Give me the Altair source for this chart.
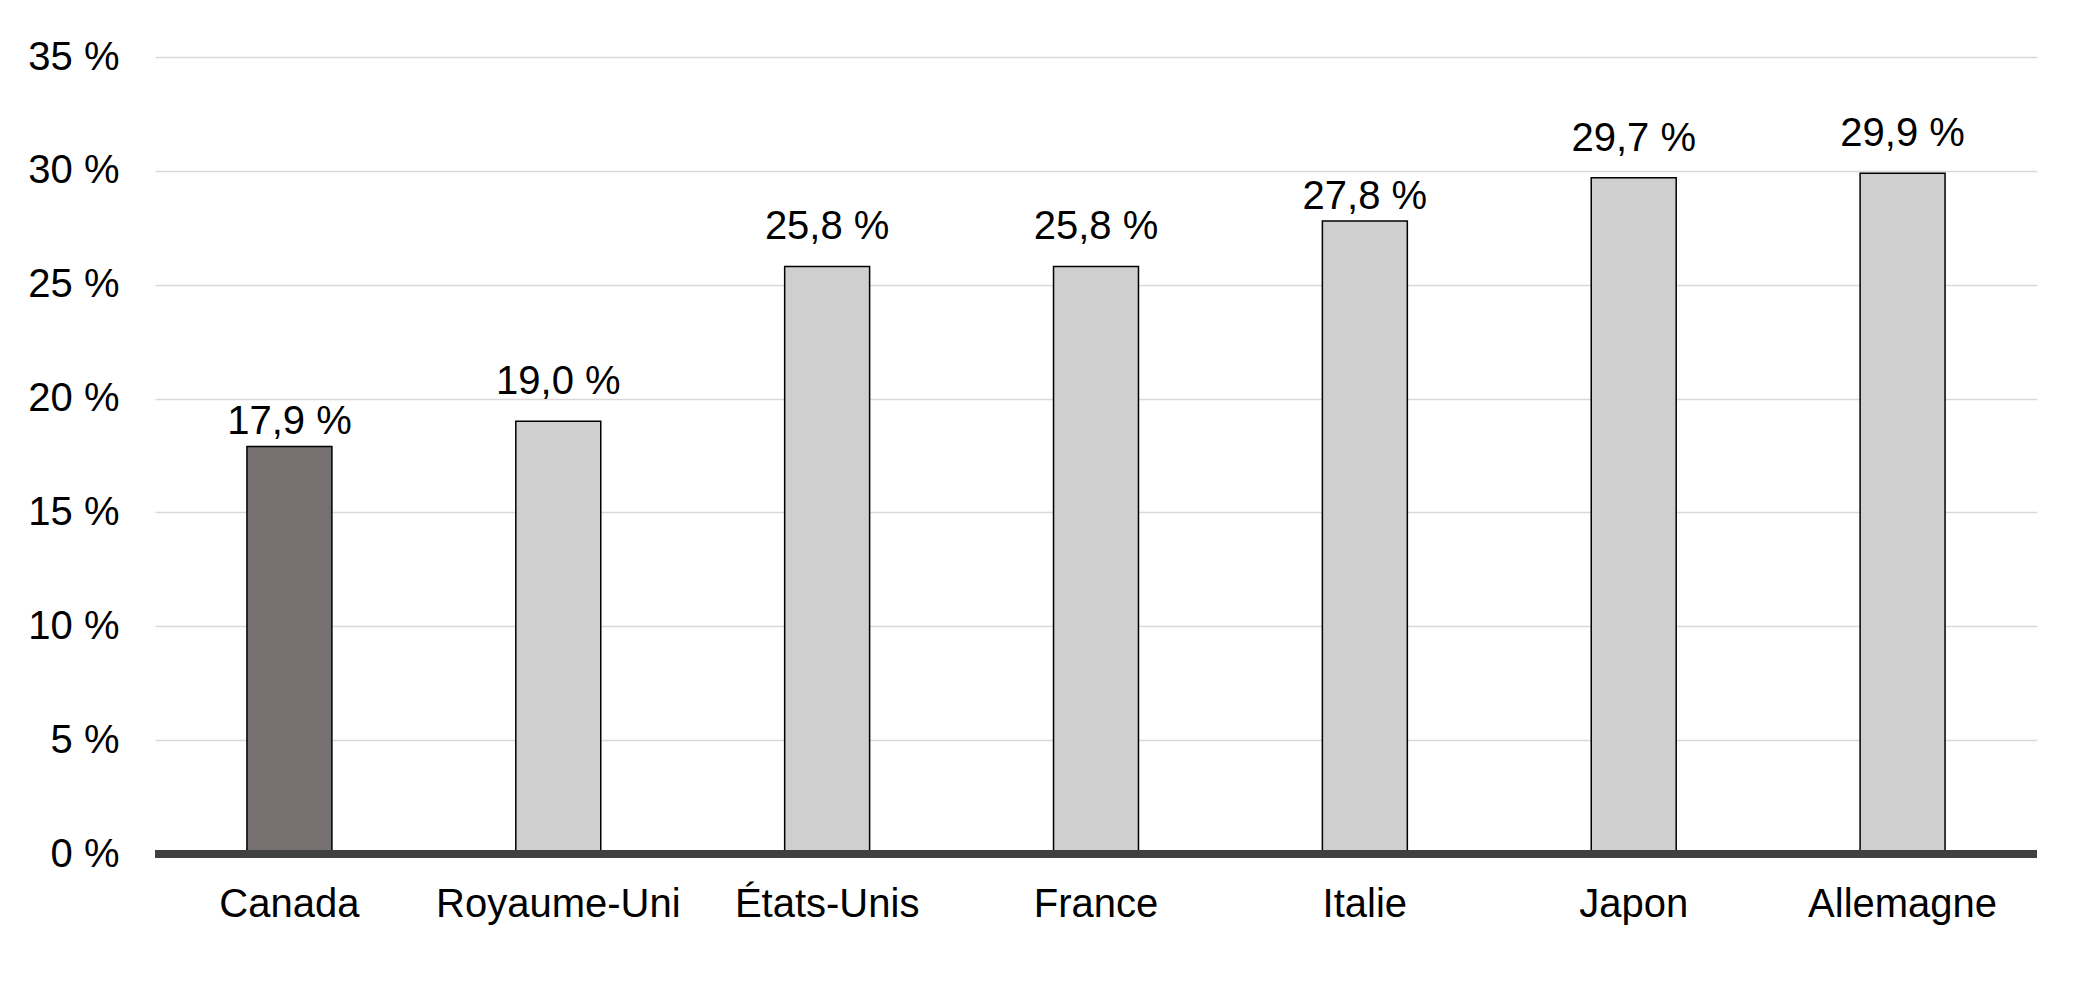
import altair as alt
import pandas as pd

pays = ["Canada", "Royaume-Uni", "États-Unis", "France", "Italie", "Japon", "Allemagne"]
valeurs = [17.9, 19.0, 25.8, 25.8, 27.8, 29.7, 29.9]
y_ticks = [0, 5, 10, 15, 20, 25, 30, 35]
# labels that sit closer to their bar in the reference
rapproches = ["Canada", "Italie"]

df = pd.DataFrame({
    "pays": pays,
    "valeur": valeurs,
    "etiquette": [f"{v:.1f}".replace(".", ",") + " %" for v in valeurs],
})

FONT = "Liberation Sans"
FS = 40

x_enc = alt.X(
    "pays:N",
    sort=pays,
    title=None,
    scale=alt.Scale(paddingInner=0.684, paddingOuter=0.342),
    axis=alt.Axis(
        labelAngle=0, labelFont=FONT, labelFontSize=FS, labelColor="#000000",
        labelPadding=30, labelLimit=0, ticks=False, domain=False, grid=False,
    ),
)
y_enc = alt.Y(
    "valeur:Q",
    title=None,
    scale=alt.Scale(domain=[0, 35], nice=False, zero=True),
    axis=alt.Axis(
        values=y_ticks, labelExpr="datum.value + ' %'", labelFont=FONT,
        labelFontSize=FS, labelColor="#000000", labelPadding=36, labelLimit=0,
        ticks=False, domain=False, grid=True, gridColor="#d9d9d9", gridWidth=1.5,
    ),
)

base = alt.Chart(df)

bars = base.mark_bar(stroke="#000000", strokeWidth=1.5).encode(
    x=x_enc,
    y=y_enc,
    color=alt.condition(alt.datum.pays == "Canada", alt.value("#767170"), alt.value("#d0cfcf")),
)

labels_far = base.transform_filter(
    ~alt.FieldOneOfPredicate(field="pays", oneOf=rapproches)
).mark_text(font=FONT, fontSize=FS, color="#000000", baseline="alphabetic", dy=-27).encode(
    x=alt.X("pays:N", sort=pays), y="valeur:Q", text="etiquette:N"
)
labels_near = base.transform_filter(
    alt.FieldOneOfPredicate(field="pays", oneOf=rapproches)
).mark_text(font=FONT, fontSize=FS, color="#000000", baseline="alphabetic", dy=-12).encode(
    x=alt.X("pays:N", sort=pays), y="valeur:Q", text="etiquette:N"
)

zero_line = alt.Chart(pd.DataFrame({"zero": [0]})).mark_rule(
    color="#404040", strokeWidth=8
).encode(y="zero:Q")

chart = alt.layer(bars, labels_far, labels_near, zero_line).properties(
    width=1882,
    height=797,
    background="#ffffff",
    autosize=alt.AutoSizeParams(type="none"),
    padding={"left": 147, "top": 49, "right": 46, "bottom": 142},
).configure_view(stroke=None, strokeWidth=0)

chart.save("out.html", embed_options={"renderer": "svg", "actions": False})
